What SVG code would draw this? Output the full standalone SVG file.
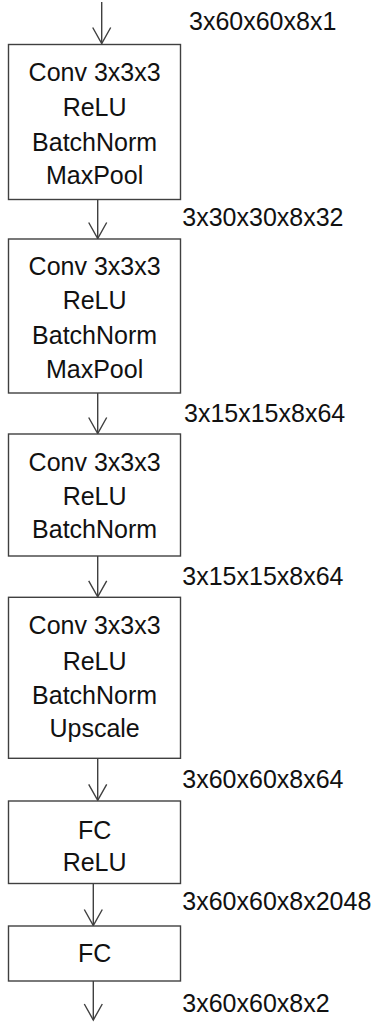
<svg xmlns="http://www.w3.org/2000/svg" width="375" height="1024" viewBox="0 0 375 1024">
<style>
.box{fill:#fff;stroke:#404040;stroke-width:1.4}
.t{font-family:"Liberation Sans",Arial,sans-serif;font-size:25px;fill:#111}
.c{text-anchor:middle}
.edge{stroke:#404040;stroke-width:1.4;fill:none;marker-end:url(#v)}
</style>
<defs>
<marker id="v" markerUnits="userSpaceOnUse" markerWidth="40" markerHeight="40" viewBox="-20 -20 40 40" refX="0" refY="0" orient="auto" overflow="visible">
<path d="M-16,-9 L0,0 L-16,9" fill="none" stroke="#404040" stroke-width="1.4"/>
</marker>
</defs>
<rect width="375" height="1024" fill="#fff"/>
<g id="connectors">
<line class="edge" x1="101.7" y1="2" x2="101.7" y2="43.5"/>
<line class="edge" x1="97.7" y1="199.5" x2="97.7" y2="238.5"/>
<line class="edge" x1="97.7" y1="393" x2="97.7" y2="433.5"/>
<line class="edge" x1="97.7" y1="556" x2="97.7" y2="596.8"/>
<line class="edge" x1="97.7" y1="758.5" x2="97.7" y2="800.3"/>
<line class="edge" x1="93.3" y1="883.5" x2="93.3" y2="925.5"/>
<line class="edge" x1="93.3" y1="981" x2="93.3" y2="1020"/>
</g>
<g id="labels" class="t">
<text x="189" y="30">3x60x60x8x1</text>
<text x="182.3" y="226">3x30x30x8x32</text>
<text x="184" y="421.7">3x15x15x8x64</text>
<text x="182.3" y="585">3x15x15x8x64</text>
<text x="182.3" y="788.3">3x60x60x8x64</text>
<text x="182.3" y="910">3x60x60x8x2048</text>
<text x="182.3" y="1011.7">3x60x60x8x2</text>
</g>
<g id="n1">
<rect class="box" x="8.5" y="44.5" width="172" height="155"/>
<text class="t c" x="94.6" y="80.7">Conv 3x3x3</text>
<text class="t c" x="94.6" y="116">ReLU</text>
<text class="t c" x="94.6" y="150.7">BatchNorm</text>
<text class="t c" x="94.6" y="184.3">MaxPool</text>
</g>
<g id="n2">
<rect class="box" x="8.5" y="239" width="172" height="154"/>
<text class="t c" x="94.6" y="275">Conv 3x3x3</text>
<text class="t c" x="94.6" y="309.3">ReLU</text>
<text class="t c" x="94.6" y="344">BatchNorm</text>
<text class="t c" x="94.6" y="377.7">MaxPool</text>
</g>
<g id="n3">
<rect class="box" x="8.5" y="434" width="172" height="122"/>
<text class="t c" x="94.6" y="470.7">Conv 3x3x3</text>
<text class="t c" x="94.6" y="505">ReLU</text>
<text class="t c" x="94.6" y="538.3">BatchNorm</text>
</g>
<g id="n4">
<rect class="box" x="8.5" y="597.3" width="172" height="161"/>
<text class="t c" x="94.6" y="634.3">Conv 3x3x3</text>
<text class="t c" x="94.6" y="670">ReLU</text>
<text class="t c" x="94.6" y="704.3">BatchNorm</text>
<text class="t c" x="94.6" y="736.7">Upscale</text>
</g>
<g id="n5">
<rect class="box" x="8.5" y="801" width="172" height="82.5"/>
<text class="t c" x="94.6" y="839.3">FC</text>
<text class="t c" x="94.6" y="871">ReLU</text>
</g>
<g id="n6">
<rect class="box" x="8.5" y="926" width="172" height="55"/>
<text class="t c" x="94.6" y="961.7">FC</text>
</g>
</svg>
